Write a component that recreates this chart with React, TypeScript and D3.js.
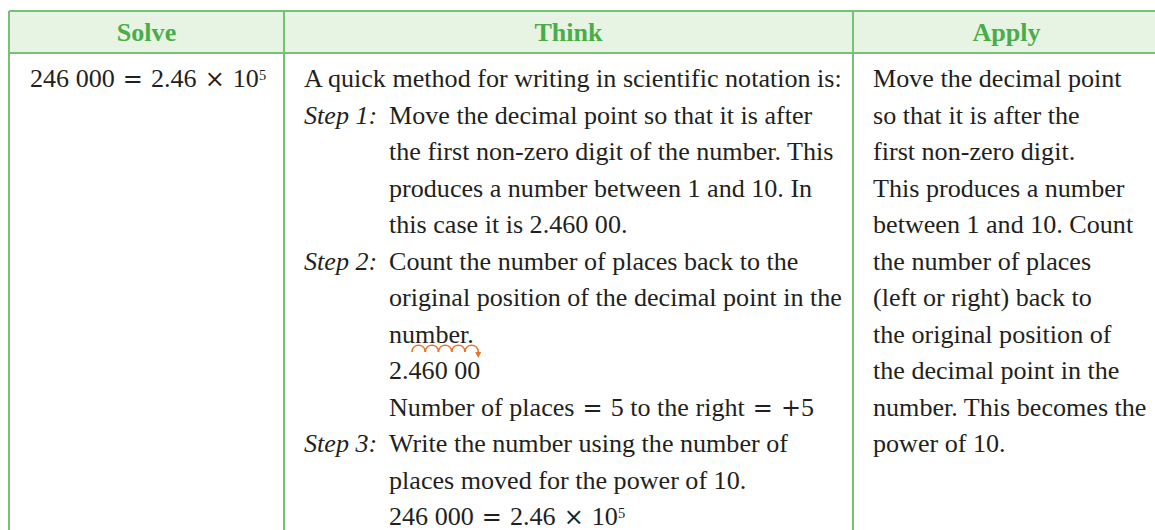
import React from 'react';
import * as d3 from 'd3';

const headers = ['Solve', 'Think', 'Apply'];

const solveLines = ['246 000 = 2.46 × 10^5'];

const thinkLabels = ['', 'Step 1:', '', '', '', 'Step 2:', '', '', '', '', 'Step 3:', '', ''];
const thinkLines = [
  'A quick method for writing in scientific notation is:',
  'Move the decimal point so that it is after',
  'the first non-zero digit of the number. This',
  'produces a number between 1 and 10. In',
  'this case it is 2.460 00.',
  'Count the number of places back to the',
  'original position of the decimal point in the',
  'number.',
  '2.460 00',
  'Number of places = 5 to the right = +5',
  'Write the number using the number of',
  'places moved for the power of 10.',
  '246 000 = 2.46 × 10^5',
];
const thinkIndent = [0, 1, 1, 1, 1, 1, 1, 1, 1, 1, 1, 1, 1];
const hopLine = 8;
const hopCount = 5;

const applyLines = [
  'Move the decimal point',
  'so that it is after the',
  'first non-zero digit.',
  'This produces a number',
  'between 1 and 10. Count',
  'the number of places',
  '(left or right) back to',
  'the original position of',
  'the decimal point in the',
  'number. This becomes the',
  'power of 10.',
];

const W = 1155;
const H = 530;
const FS = 26.1;
const SERIF = '"Liberation Serif", "Times New Roman", Times, serif';
const MATH = '"DejaVu Serif", "Liberation Serif", serif';
const GREEN = '#76c274';
const FILL = '#e8f4e3';
const HEAD = '#4aad4a';
const INK = '#231f20';
const ORANGE = '#e8732a';

const colEdges = [9, 284, 853, 1160];
const top = 11;
const headBottom = 53;

function Rich({ text, x, y }: { text: string; x: number; y: number }) {
  const parts = text.split(/(\^\d+|[=×+])/).filter((p) => p !== '');
  return (
    <text x={x} y={y} fontFamily={SERIF} fontSize={FS} fill={INK} style={{ whiteSpace: 'pre' }}>
      {parts.map((p, i) => {
        if (p.startsWith('^')) {
          return (
            <tspan key={i} fontSize={14.5} dy={-7.5}>
              {p.slice(1)}
            </tspan>
          );
        }
        if (p === '=' || p === '×' || p === '+') {
          return (
            <tspan key={i} fontFamily={MATH} fontSize={FS * 0.92} dx={p === '+' ? 0 : 1.5}>
              {p}
            </tspan>
          );
        }
        const prevSup = i > 0 && parts[i - 1].startsWith('^');
        const prevOp = i > 0 && ['=', '×'].includes(parts[i - 1]);
        return (
          <tspan key={i} dy={prevSup ? 7.5 : undefined} dx={prevOp ? 1.5 : undefined}>
            {p}
          </tspan>
        );
      })}
    </text>
  );
}

export default function App() {
  const yLine = d3.scaleLinear().domain([0, 1]).range([87, 123.5]);
  const colCenter = (i: number) => (colEdges[i] + colEdges[i + 1]) / 2;
  const thinkX0 = 304;
  const thinkX1 = 389;
  const solveX = 30;
  const applyX = 873;

  const hopX = d3
    .scaleLinear()
    .domain([0, hopCount])
    .range([thinkX1 + 0.88 * FS, thinkX1 + 3.42 * FS]);
  const hopBase = yLine(hopLine) - 27;
  const hops = d3.range(hopCount).map((k) => {
    const a = hopX(k);
    const b = hopX(k + 1);
    const p = d3.path();
    p.moveTo(a, hopBase);
    p.bezierCurveTo(a + 0.5, hopBase - 9, b - 0.5, hopBase - 9, b, hopBase);
    return p.toString();
  });
  const tipX = hopX(hopCount);

  return (
    <svg
      width={W}
      height={H}
      style={{ position: 'fixed', left: 0, top: 0, background: '#fff' }}
    >
      <rect x={0} y={0} width={W} height={H} fill="#fff" />
      <rect
        x={colEdges[0]}
        y={top}
        width={colEdges[3] - colEdges[0]}
        height={headBottom - top}
        fill={FILL}
      />
      <line x1={colEdges[0]} x2={colEdges[3]} y1={top} y2={top} stroke={GREEN} strokeWidth={2} />
      <line
        x1={colEdges[0]}
        x2={colEdges[3]}
        y1={headBottom}
        y2={headBottom}
        stroke={GREEN}
        strokeWidth={2}
      />
      {colEdges.map((x, i) => (
        <line key={i} x1={x} x2={x} y1={top} y2={H + 10} stroke={GREEN} strokeWidth={2} />
      ))}
      {headers.map((h, i) => (
        <text
          key={h}
          x={colCenter(i)}
          y={40.5}
          textAnchor="middle"
          fontFamily={SERIF}
          fontWeight="bold"
          fontSize={FS}
          fill={HEAD}
        >
          {h}
        </text>
      ))}
      {solveLines.map((t, i) => (
        <Rich key={'s' + i} text={t} x={solveX} y={yLine(i)} />
      ))}
      {thinkLines.map((t, i) => (
        <g key={'t' + i}>
          {thinkLabels[i] && (
            <text
              x={thinkX0}
              y={yLine(i)}
              fontFamily={SERIF}
              fontStyle="italic"
              fontSize={FS}
              fill={INK}
            >
              {thinkLabels[i]}
            </text>
          )}
          <Rich text={t} x={thinkIndent[i] ? thinkX1 : thinkX0} y={yLine(i)} />
        </g>
      ))}
      {hops.map((d, k) => (
        <path key={'h' + k} d={d} fill="none" stroke={ORANGE} strokeWidth={1.6} />
      ))}
      <path
        d={`M${tipX - 3},${hopBase} L${tipX + 3},${hopBase} L${tipX},${hopBase + 6} Z`}
        fill={ORANGE}
      />
      {applyLines.map((t, i) => (
        <Rich key={'a' + i} text={t} x={applyX} y={yLine(i)} />
      ))}
    </svg>
  );
}
